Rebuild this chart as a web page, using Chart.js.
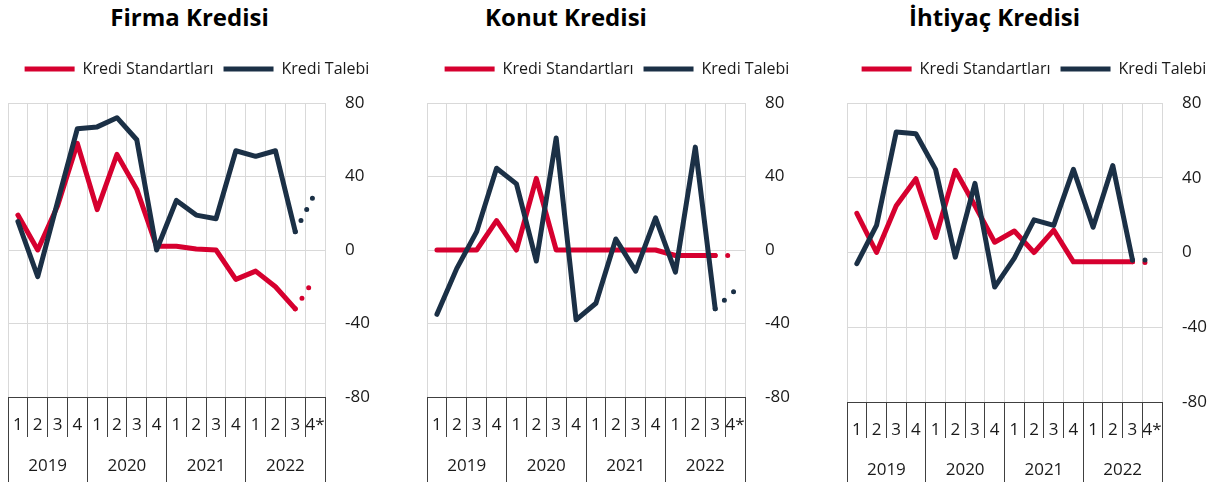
<!DOCTYPE html>
<html lang="tr">
<head>
<meta charset="utf-8">
<script src="https://cdn.jsdelivr.net/npm/chart.js@4.4.1/dist/chart.umd.min.js"></script>
<style>
  body { margin: 0; width: 1221px; height: 482px; background: #fff; position: relative; overflow: hidden; }
  .panel { position: absolute; top: 0; height: 482px; }
  .title { position: absolute; top: 5px; width: 300px; text-align: center; font: bold 24px/24px 'Open Sans', sans-serif; color: #000; white-space: nowrap; }
</style>
</head>
<body>
<div class="title" style="left:39.5px">Firma Kredisi</div>
<div class="title" style="left:416px">Konut Kredisi</div>
<div class="title" style="left:844.5px">İhtiyaç Kredisi</div>

<div class="panel" style="left:0px;width:386px"><canvas id="firmaChart"></canvas></div>
<div class="panel" style="left:419px;width:388px"><canvas id="konutChart"></canvas></div>
<div class="panel" style="left:839px;width:382px"><canvas id="ihtiyacChart"></canvas></div>

<script>
// Quarters 2019Q1 .. 2022Q4 (4* = expectation)
const quarters = ['1', '2', '3', '4', '1', '2', '3', '4', '1', '2', '3', '4', '1', '2', '3', '4*'];
const years = ['2019', '2020', '2021', '2022'];

// Firma Kredisi
const firmaStandart = [19, 0, 24, 58, 22, 52, 33, 2, 2, 0.5, 0, -16, -11.5, -20, -32, -15];
const firmaTalep = [15.5, -14.5, 26, 66, 67, 72, 60, 0, 27, 19, 17, 54, 51, 54, 10, 31];

// Konut Kredisi
const konutStandart = [0, 0, 0, 16, 0, 39, 0, 0, 0, 0, 0, 0, -3, -3, -3, -3];
const konutTalep = [-35, -10, 10, 44.5, 36, -6, 61, -38, -29, 6, -11.5, 17.5, -12, 56, -32, -22];

// İhtiyaç Kredisi
const ihtiyacStandart = [21, 0, 25, 39.5, 8, 44, 25, 5.5, 11.5, 0, 12, -5, -5, -5, -5, -5.5];
const ihtiyacTalep = [-6, 14.5, 64.5, 63.5, 44.5, -2.5, 37, -18.5, -3, 17.5, 14.5, 44.5, 13.5, 46.5, -4, -4];

const RED = '#D6002F';
const NAVY = '#1B3046';
const GRID = '#D9D9D9';
const BOX = '#404040';
const TEXT = '#1A1A1A';

Chart.defaults.font.family = "'Open Sans', sans-serif";
Chart.defaults.color = TEXT;

// extra room between legend and plot area
const legendGap = {
  id: 'legendGap',
  beforeInit(chart) {
    const fit = chart.legend.fit;
    chart.legend.fit = function() {
      fit.call(this);
      this.height += 16;
    };
  }
};

function series(label, data, color, order) {
  return {
    label,
    data,
    xAxisID: 'x',
    borderColor: color,
    backgroundColor: color,
    borderWidth: 5,
    borderCapStyle: 'round',
    borderJoinStyle: 'round',
    pointRadius: 0,
    pointHoverRadius: 0,
    tension: 0,
    order,
    // last step (4*) is the expectation, drawn dotted
    segment: {
      borderDash: ctx => ctx.p1DataIndex === data.length - 1 ? [0, 12.5] : undefined
    }
  };
}

function makeChart(id, standart, talep, box) {
  const ctx = document.getElementById(id);
  new Chart(ctx, {
    type: 'line',
    data: {
      labels: quarters,
      datasets: [
        series('Kredi Standartları', standart, RED, 2),
        series('Kredi Talebi', talep, NAVY, 1)
      ]
    },
    options: {
      responsive: true,
      maintainAspectRatio: false,
      animation: false,
      layout: { padding: { top: 51, left: 8, right: 0, bottom: 0 } },
      plugins: {
        legend: {
          position: 'top',
          labels: {
            usePointStyle: true,
            pointStyle: 'line',
            pointStyleWidth: 50,
            padding: 10,
            color: TEXT,
            font: { size: 16 },
            sort: (a, b) => a.datasetIndex - b.datasetIndex
          }
        },
        tooltip: { enabled: false }
      },
      scales: {
        x: {
          type: 'category',
          position: 'bottom',
          offset: true,
          weight: 0,
          grid: { offset: true, color: GRID, tickColor: BOX, tickLength: box.qHeight, drawTicks: true },
          border: { display: true, color: BOX },
          ticks: { autoSkip: false, maxRotation: 0, padding: box.qPad, color: TEXT, font: { size: 17 } },
          afterFit(scale) { scale.height = box.qHeight; }
        },
        years: {
          type: 'category',
          labels: years,
          position: 'bottom',
          offset: true,
          bounds: 'ticks',
          weight: 1,
          grid: { offset: true, drawOnChartArea: false, tickColor: BOX, tickLength: 50 },
          border: { display: false },
          ticks: { autoSkip: false, maxRotation: 0, padding: box.yPad, color: TEXT, font: { size: 17 } },
          afterFit(scale) { scale.height = box.yHeight; }
        },
        y: {
          position: 'right',
          min: -80,
          max: 80,
          ticks: { stepSize: 40, padding: 20, color: TEXT, font: { size: 17 } },
          grid: {
            color: c => (c.tick && c.tick.value === -80) ? 'rgba(0,0,0,0)' : GRID,
            drawTicks: false
          },
          border: { display: false },
          afterFit(scale) { scale.width = box.axisWidth; }
        }
      }
    },
    plugins: [legendGap]
  });
}

makeChart('firmaChart', firmaStandart, firmaTalep, { axisWidth: 61, qHeight: 40, qPad: -22, yHeight: 45, yPad: -31 });
makeChart('konutChart', konutStandart, konutTalep, { axisWidth: 62, qHeight: 40, qPad: -22, yHeight: 45, yPad: -31 });
makeChart('ihtiyacChart', ihtiyacStandart, ihtiyacTalep, { axisWidth: 59, qHeight: 36, qPad: -18.5, yHeight: 44, yPad: -28 });
</script>
</body>
</html>
